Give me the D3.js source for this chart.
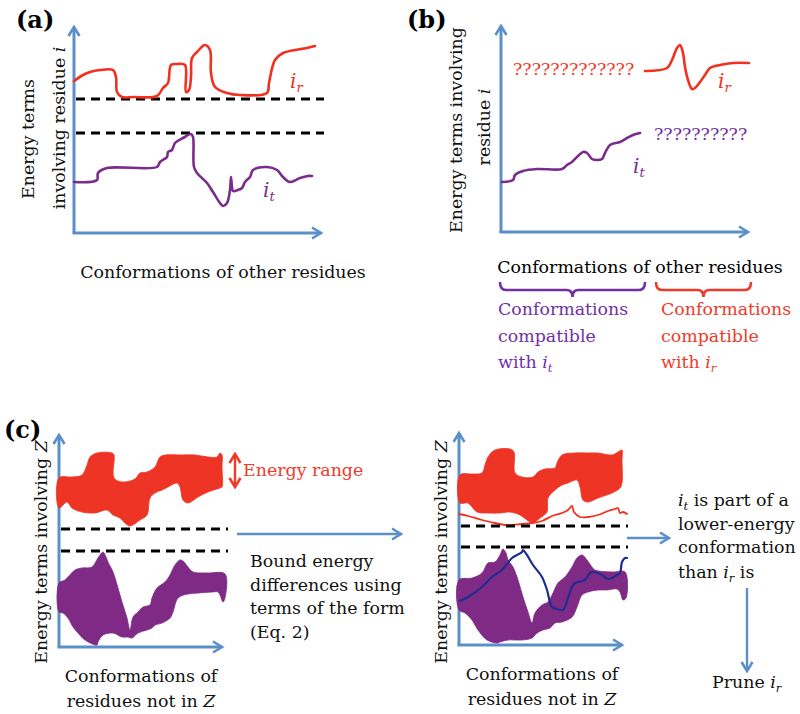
<!DOCTYPE html>
<html><head><meta charset="utf-8">
<script src="https://cdn.jsdelivr.net/npm/d3@7"></script>
<style>body{margin:0;background:#fff}svg{display:block}</style>
</head><body>
<script>
// ---------------- DATA (arbitrary units: [conformation, energy]) ----------------
// Panel (a)
const ir_a = [[0,152],[9,158],[16,161],[26,163],[39,163],[42,156],[43,141],[48,136],[59,136],[83,137],[89,145],[94,150],[97,168],[103,169],[111,168],[112,141],[115,143],[117,156],[118,175],[123,181],[131,188],[136,183],[137,160],[141,146],[153,140],[166,138],[193,140],[195,150],[201,173],[209,180],[233,185],[241,187]];
const it_a = [[0,51],[23,53],[24,60],[33,65],[83,66],[86,71],[93,76],[94,81],[98,83],[101,90],[109,95],[117,99],[119,96],[120,66],[123,60],[133,50],[139,41],[146,30],[149,27],[153,30],[156,43],[157,56],[158,46],[159,42],[164,43],[168,45],[171,51],[176,56],[179,63],[193,66],[203,63],[209,56],[216,51],[226,55],[234,57],[238,57]];
const thresholds_a = [134, 100];
// Panel (b)
const ir_b = [[144,161],[166,164],[171,172],[176,184],[179,187],[182,179],[184,165],[187,152],[191,143],[194,144],[199,150],[204,157],[209,164],[219,167],[232,169],[248,169]];
const it_b = [[1,50],[12,52],[14,57],[22,61],[36,63],[61,63],[66,67],[71,70],[76,75],[82,80],[86,79],[91,73],[96,72],[101,73],[104,79],[109,87],[119,90],[126,94],[132,97],[139,99]];
const unknownLabels_b = ["?????????????", "??????????"];
// Panel (c) left
const redBandTop_cL = [[0,169],[13,170],[23,172],[28,182],[31,190],[38,194],[53,194],[55,192],[55,169],[63,165],[76,168],[81,174],[88,175],[96,180],[101,190],[106,192],[123,192],[136,192],[149,190],[158,190],[161,194],[163,192],[163,180],[163,160]];
const redBandBottom_cL = [[161,159],[149,155],[139,150],[129,144],[124,147],[121,160],[118,164],[109,160],[103,157],[96,154],[91,149],[88,132],[81,127],[71,121],[66,124],[61,129],[54,132],[48,137],[36,134],[23,135],[13,139],[8,145],[0,139]];
const purpleBandTop_cL = [[0,64],[6,67],[16,77],[23,79],[33,80],[39,89],[44,95],[47,90],[49,85],[54,75],[59,59],[63,45],[68,29],[71,17],[74,30],[79,35],[84,40],[91,42],[93,49],[98,59],[106,65],[111,72],[116,82],[121,87],[124,86],[129,80],[134,75],[149,74],[166,73],[166,49],[164,45]];
const purpleBandBottom_cL = [[161,52],[159,55],[153,55],[139,54],[129,53],[119,49],[114,35],[111,29],[103,24],[96,22],[93,19],[88,17],[79,14],[73,9],[69,10],[63,10],[54,14],[44,12],[39,5],[38,2],[26,7],[19,14],[14,20],[9,29],[4,34],[0,35]];
const thresholds_cL = [118, 96];
// Panel (c) right
const redBandTop_cR = [[1,170],[13,171],[23,172],[26,180],[29,188],[36,195],[51,196],[55,193],[56,172],[63,168],[74,168],[79,173],[86,176],[96,177],[98,182],[103,190],[116,192],[129,192],[139,192],[153,190],[159,193],[163,195],[163,185],[163,162],[161,157]];
const redBandBottom_cR = [[153,152],[139,147],[129,143],[124,145],[121,158],[118,165],[109,162],[103,160],[96,155],[89,147],[88,133],[81,127],[74,122],[68,125],[61,130],[51,133],[41,132],[29,132],[18,133],[9,142],[1,142]];
const irBest_cR = [[0,131],[9,129],[23,125],[36,122],[46,120],[63,121],[73,122],[83,124],[93,129],[103,132],[109,135],[113,139],[115,133],[121,128],[129,128],[139,130],[149,134],[156,136],[159,137],[161,132],[164,133],[168,131]];
const purpleBandTop_cR = [[0,65],[13,67],[23,72],[29,82],[36,83],[41,90],[44,96],[47,92],[49,85],[54,78],[59,65],[64,48],[69,33],[73,22],[76,32],[83,40],[89,43],[94,52],[99,62],[106,68],[113,78],[118,87],[123,90],[128,85],[133,78],[136,75],[153,73],[166,73],[167,47],[164,45]];
const purpleBandBottom_cR = [[161,53],[158,56],[148,55],[139,55],[129,53],[123,50],[118,38],[113,28],[103,23],[96,22],[91,17],[84,15],[78,12],[73,7],[63,5],[49,5],[41,3],[38,2],[28,5],[19,15],[13,25],[6,32],[0,35]];
const itBest_cR = [[1,44],[9,48],[23,58],[33,68],[43,75],[53,87],[63,93],[64,95],[68,90],[74,80],[83,68],[88,55],[93,38],[98,36],[104,35],[109,47],[113,58],[116,62],[126,65],[131,72],[134,73],[143,70],[149,66],[158,70],[161,72],[163,83],[166,87],[168,87]];
const thresholds_cR = [119, 98];

// ---------------- STYLE ----------------
const BLUE = "#5b8fc9", RED = "#f2301f", BANDRED = "#ee3424", PURPLE = "#7a2c8c", BANDPURPLE = "#7f2a85", TXTPURPLE = "#7030a0", TXTRED = "#f03a2a", NAVY = "#1f2d8c";
const FS = 17.4;
const FONT = "DejaVu Serif";

const svg = d3.select("body").append("svg").attr("width", 800).attr("height", 714)
  .attr("font-family", FONT);
const defs = svg.append("defs");
function marker(id, color) {
  defs.append("marker").attr("id", id).attr("markerUnits", "userSpaceOnUse")
    .attr("viewBox", "0 0 14 14").attr("refX", 11).attr("refY", 7)
    .attr("markerWidth", 14).attr("markerHeight", 14).attr("orient", "auto-start-reverse")
    .append("path").attr("d", "M2,1.5 L11,7 L2,12.5").attr("fill", "none")
    .attr("stroke", color).attr("stroke-width", 2.6).attr("stroke-linejoin", "miter");
}
marker("arrB", BLUE); marker("arrR", TXTRED);

function panel(xr, yr, xd, yd) {
  return { x: d3.scaleLinear().domain(xd).range(xr), y: d3.scaleLinear().domain(yd).range(yr), xmax: xd[1], ymax: yd[1] };
}
const A = panel([74, 321], [233, 27], [0, 247], [0, 206]);
const B = panel([501, 748], [232, 26], [0, 247], [0, 206]);
const CL = panel([59, 222], [647, 435], [0, 163], [0, 212]);
const CR = panel([459, 622], [645, 433], [0, 163], [0, 212]);

function axes(P) {
  svg.append("line").attr("x1", P.x(0)).attr("y1", P.y(0)).attr("x2", P.x(0)).attr("y2", P.y(P.ymax))
    .attr("stroke", BLUE).attr("stroke-width", 3).attr("marker-end", "url(#arrB)");
  svg.append("line").attr("x1", P.x(0) - 1.5).attr("y1", P.y(0)).attr("x2", P.x(P.xmax)).attr("y2", P.y(0))
    .attr("stroke", BLUE).attr("stroke-width", 3).attr("marker-end", "url(#arrB)");
}
function curve(P, data, color, w) {
  const line = d3.line().x(d => P.x(d[0])).y(d => P.y(d[1])).curve(d3.curveCatmullRom.alpha(0.5));
  svg.append("path").attr("d", line(data)).attr("fill", "none").attr("stroke", color)
    .attr("stroke-width", w).attr("stroke-linejoin", "round").attr("stroke-linecap", "round");
}
function band(P, top, bottom, color) {
  const line = d3.line().x(d => P.x(d[0])).y(d => P.y(d[1])).curve(d3.curveCatmullRomClosed.alpha(0.5));
  svg.append("path").attr("d", line(top.concat(bottom))).attr("fill", color).attr("stroke", color).attr("stroke-width", 0.8);
}
function dashes(P, ths, xEnd) {
  ths.forEach(t => svg.append("line").attr("x1", P.x(0) + 2).attr("x2", P.x(xEnd)).attr("y1", P.y(t)).attr("y2", P.y(t))
    .attr("stroke", "#000").attr("stroke-width", 2.8).attr("stroke-dasharray", "9,6"));
}
// text made of parts: [string, italic?, sub?]
function rich(x, y, parts, opts = {}) {
  const size = opts.size || FS;
  const t = svg.append("text").attr("x", x).attr("y", y).attr("font-size", size)
    .attr("font-family", FONT)
    .attr("fill", opts.fill || "#111").attr("text-anchor", opts.anchor || "start");
  if (opts.rotate) t.attr("x", 0).attr("y", 0).attr("transform", `translate(${x},${y}) rotate(-90)`);
  if (opts.bold) t.attr("font-weight", "bold");
  let inSub = false;
  parts.forEach(p => {
    const [s, it, sub] = Array.isArray(p) ? p : [p, false, false];
    const ts = t.append("tspan").text(s);
    if (it) ts.attr("font-style", "italic");
    if (sub && !inSub) { ts.attr("dy", 4).attr("font-size", size * 0.66); inSub = true; }
    else if (!sub && inSub) { ts.attr("dy", -4); inSub = false; }
    else if (sub) ts.attr("font-size", size * 0.66);
  });
  return t;
}

// ---------------- PANEL (a) ----------------
rich(16, 28, ["(a)"], { size: 24, bold: true, fill: "#000" });
axes(A);
dashes(A, thresholds_a, 250);
curve(A, ir_a, RED, 2.6);
curve(A, it_a, PURPLE, 2.6);
rich(A.x(216), A.y(145), [["i", true], ["r", true, true]], { fill: RED, size: 20 });
rich(A.x(189), A.y(36), [["i", true], ["t", true, true]], { fill: PURPLE, size: 20 });
rich(34, 139, ["Energy terms"], { rotate: true, anchor: "middle" });
rich(65, 128, ["involving residue ", ["i", true]], { rotate: true, anchor: "middle" });
rich(223, 278, ["Conformations of other residues"], { anchor: "middle" });

// ---------------- PANEL (b) ----------------
rich(407, 28, ["(b)"], { size: 24, bold: true, fill: "#000" });
axes(B);
curve(B, ir_b, RED, 2.6);
curve(B, it_b, PURPLE, 2.6);
rich(B.x(12), B.y(157), [unknownLabels_b[0]], { fill: TXTRED });
rich(B.x(153), B.y(92), [unknownLabels_b[1]], { fill: TXTPURPLE });
rich(B.x(217), B.y(144), [["i", true], ["r", true, true]], { fill: RED, size: 20 });
rich(B.x(132), B.y(59), [["i", true], ["t", true, true]], { fill: PURPLE, size: 20 });
rich(462, 130, ["Energy terms involving"], { rotate: true, anchor: "middle" });
rich(490, 127, ["residue ", ["i", true]], { rotate: true, anchor: "middle" });
rich(640, 273, ["Conformations of other residues"], { anchor: "middle", fill: "#000" });
function bracket(x1, x2, color) {
  const cx = (x1 + x2) / 2;
  const p = `M${x1},282 Q${x1},290 ${x1 + 6},290 L${cx - 6},290 Q${cx},290 ${cx},297 Q${cx},290 ${cx + 6},290 L${x2 - 6},290 Q${x2},290 ${x2},282`;
  svg.append("path").attr("d", p).attr("fill", "none").attr("stroke", color).attr("stroke-width", 2.6);
}
bracket(B.x(-1), B.x(144), TXTPURPLE);
bracket(B.x(155), B.x(250), TXTRED);
rich(498, 315, ["Conformations"], { fill: TXTPURPLE });
rich(498, 342, ["compatible"], { fill: TXTPURPLE });
rich(498, 368, ["with ", ["i", true], ["t", true, true]], { fill: TXTPURPLE });
rich(661, 315, ["Conformations"], { fill: TXTRED });
rich(661, 342, ["compatible"], { fill: TXTRED });
rich(661, 368, ["with ", ["i", true], ["r", true, true]], { fill: TXTRED });

// ---------------- PANEL (c) left ----------------
rich(4, 438, ["(c)"], { size: 24, bold: true, fill: "#000" });
axes(CL);
band(CL, redBandTop_cL, redBandBottom_cL, BANDRED);
band(CL, purpleBandTop_cL, purpleBandBottom_cL, BANDPURPLE);
dashes(CL, thresholds_cL, 169);
rich(47, 552, ["Energy terms involving ", ["Z", true]], { rotate: true, anchor: "middle" });
rich(141, 682, ["Conformations of"], { anchor: "middle" });
rich(141, 707, ["residues not in ", ["Z", true]], { anchor: "middle" });
svg.append("line").attr("x1", CL.x(176)).attr("x2", CL.x(176)).attr("y1", CL.y(193)).attr("y2", CL.y(160))
  .attr("stroke", TXTRED).attr("stroke-width", 2.4).attr("marker-start", "url(#arrR)").attr("marker-end", "url(#arrR)");
rich(243, 476, ["Energy range"], { fill: TXTRED });
svg.append("line").attr("x1", 237).attr("x2", 401).attr("y1", 534).attr("y2", 534)
  .attr("stroke", BLUE).attr("stroke-width", 2.4).attr("marker-end", "url(#arrB)");
["Bound energy", "differences using", "terms of the form", "(Eq. 2)"].forEach((s, i) =>
  rich(250, [567, 591, 614, 638][i], [s]));

// ---------------- PANEL (c) right ----------------
axes(CR);
band(CR, redBandTop_cR, redBandBottom_cR, BANDRED);
band(CR, purpleBandTop_cR, purpleBandBottom_cR, BANDPURPLE);
curve(CR, irBest_cR, RED, 1.8);
dashes(CR, thresholds_cR, 169);
curve(CR, itBest_cR, NAVY, 2.2);
rich(447, 552, ["Energy terms involving ", ["Z", true]], { rotate: true, anchor: "middle" });
rich(542, 680, ["Conformations of"], { anchor: "middle" });
rich(542, 705, ["residues not in ", ["Z", true]], { anchor: "middle" });
svg.append("line").attr("x1", 627).attr("x2", 669).attr("y1", 538).attr("y2", 538)
  .attr("stroke", BLUE).attr("stroke-width", 2.4).attr("marker-end", "url(#arrB)");
rich(678, 506, [["i", true], ["t", true, true], [" is part of a", false, false]]);
rich(678, 530, ["lower-energy"]);
rich(678, 553, ["conformation"]);
rich(678, 578, ["than ", ["i", true], ["r", true, true], [" is", false, false]]);
svg.append("line").attr("x1", 747).attr("x2", 747).attr("y1", 588).attr("y2", 671)
  .attr("stroke", BLUE).attr("stroke-width", 2.4).attr("marker-end", "url(#arrB)");
rich(712, 688, ["Prune ", ["i", true], ["r", true, true]]);
</script>
</body></html>
